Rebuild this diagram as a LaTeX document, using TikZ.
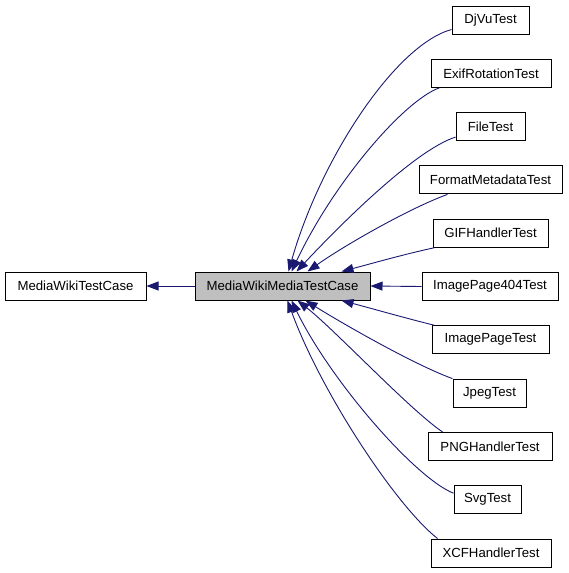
\documentclass[tikz,border=0pt]{standalone}
\usepackage{fontspec}
\setmainfont{Liberation Sans}
\usetikzlibrary{arrows.meta,calc}
\definecolor{edgeblue}{HTML}{191970}
\definecolor{boxgray}{HTML}{BFBFBF}
\tikzset{
  cls/.style={draw=black, line width=1pt, fill=white, rectangle, minimum height=28pt, inner sep=0pt, font=\fontsize{13.2}{15}\selectfont},
  inh/.style={draw=edgeblue, line width=0.9pt, -{Triangle[length=12pt,width=9pt]}, edgeblue},
}
\begin{document}
\begin{tikzpicture}[x=1pt,y=-1pt]
\useasboundingbox (0,0) rectangle (568,573);
\node[cls, minimum width=141pt] (mwtc) at (75.5,286) {MediaWikiTestCase};
\node[cls, fill=boxgray, minimum width=175pt] (m) at (282.5,286) {MediaWikiMediaTestCase};
\node[cls, minimum width=77pt] (dj) at (490.5,20) {DjVuTest};
\node[cls, minimum width=120pt] (exif) at (491,73.3) {ExifRotationTest};
\node[cls, minimum width=69pt] (file) at (490.5,126.6) {FileTest};
\node[cls, minimum width=143pt] (fmt) at (490.5,179.9) {FormatMetadataTest};
\node[cls, minimum width=115pt] (gif) at (490.5,233.2) {GIFHandlerTest};
\node[cls, minimum width=136pt] (ip404) at (490,286.5) {ImagePage404Test};
\node[cls, minimum width=117pt] (ipt) at (490.5,339.8) {ImagePageTest};
\node[cls, minimum width=73pt] (jpeg) at (489.5,393.1) {JpegTest};
\node[cls, minimum width=124pt] (png) at (490,446.4) {PNGHandlerTest};
\node[cls, minimum width=67pt] (svg) at (487.5,499.7) {SvgTest};
\node[cls, minimum width=120pt] (xcf) at (491,553) {XCFHandlerTest};
% inheritance edges
\draw[inh] (m.west) -- (mwtc.east);
\draw[inh] (ip404.west) -- (m.east);
\draw[inh] ($(dj.south west)+(0,-5)$) .. controls (395,45) and (320,160) .. ($(m.north west)+(94,0)$);
\draw[inh] ($(exif.south west)+(9,0)$) .. controls (405,100) and (335,180) .. ($(m.north west)+(97,0)$);
\draw[inh] ($(file.south west)+(0,-4)$) .. controls (415,150) and (340,225) .. ($(m.north west)+(102,0)$);
\draw[inh] ($(fmt.south west)+(29,0)$) .. controls (410,208) and (345,245) .. ($(m.north west)+(113,0)$);
\draw[inh] ($(gif.south west)+(2,0)$) .. controls (405,254) and (370,264) .. ($(m.north west)+(147,0)$);
\draw[inh] ($(ipt.north west)+(3,0)$) .. controls (405,318) and (370,308) .. ($(m.south west)+(147,0)$);
\draw[inh] ($(jpeg.north west)+(0,0)$) .. controls (415,365) and (345,325) .. ($(m.south west)+(111,0)$);
\draw[inh] ($(png.north west)+(15,0)$) .. controls (410,410) and (335,330) .. ($(m.south west)+(103,0)$);
\draw[inh] ($(svg.south west)+(0,-21)$) .. controls (415,478) and (330,380) .. ($(m.south west)+(97,0)$);
\draw[inh] ($(xcf.north west)+(7,0)$) .. controls (395,505) and (320,390) .. ($(m.south west)+(93,0)$);
\end{tikzpicture}
\end{document}
